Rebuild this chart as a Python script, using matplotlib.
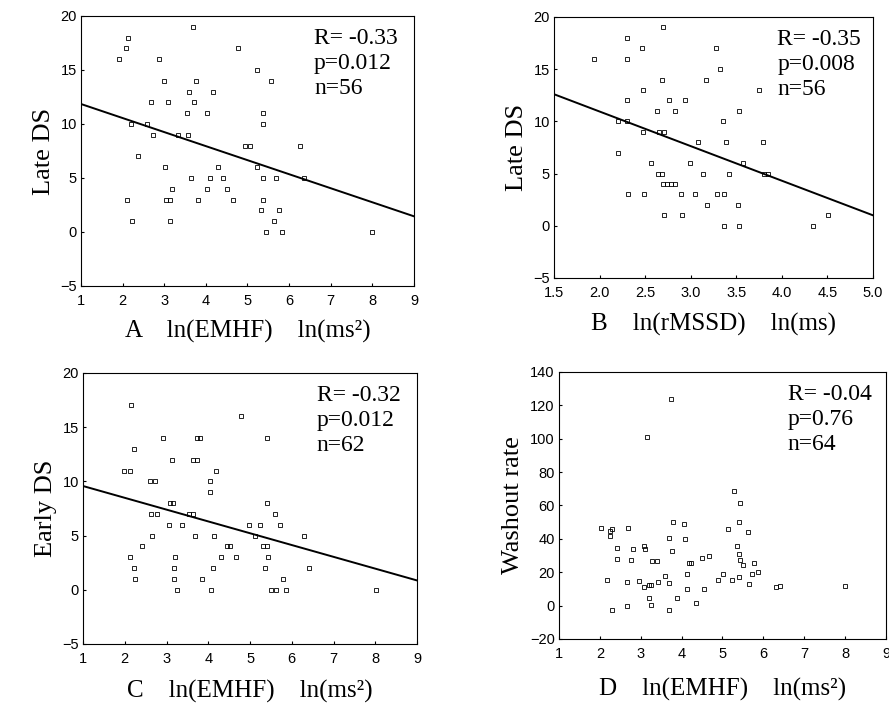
import matplotlib
matplotlib.use("Agg")
import matplotlib.pyplot as plt
import numpy as np

# Panel A: Late DS vs ln(EMHF)
a_x = [1.92, 2.07, 2.12, 2.19, 2.10, 2.22, 2.36, 2.59, 2.69, 2.74, 2.87, 3.00, 3.02,
       3.05, 3.15, 3.10, 3.18, 3.14, 3.34, 3.54, 3.60, 3.58, 3.64, 3.69, 3.72, 3.76,
       3.82, 4.03, 4.02, 4.10, 4.16, 4.28, 4.42, 4.50, 4.64, 4.78, 4.95, 5.06, 5.22,
       5.22, 5.38, 5.37, 5.38, 5.38, 5.33, 5.44, 5.56, 5.63, 5.68, 5.76, 5.82, 6.26,
       6.36, 7.98]
a_y = [16, 17, 18, 10, 3, 1, 7, 10, 12, 9, 16, 14, 6,
       3, 3, 12, 4, 1, 9, 11, 13, 9, 5, 19, 12, 14,
       3, 11, 4, 5, 13, 6, 5, 4, 3, 17, 8, 8, 15,
       6, 11, 10, 5, 3, 2, 0, 14, 1, 5, 2, 0, 8,
       5, 0]
a_fit_x = [1, 9]
a_fit_y = [11.85, 1.45]

# Panel B: Late DS vs ln(rMSSD)
b_x = [1.94, 2.20, 2.20, 2.30, 2.30, 2.30, 2.30, 2.31, 2.47, 2.48, 2.48, 2.49, 2.56,
       2.63, 2.64, 2.68, 2.70, 2.69, 2.65, 2.71, 2.70, 2.74, 2.78, 2.83, 2.71, 2.76,
       2.83, 2.89, 2.90, 2.94, 2.99, 3.05, 3.08, 3.13, 3.17, 3.18, 3.28, 3.29, 3.36,
       3.32, 3.35, 3.37, 3.39, 3.42, 3.52, 3.53, 3.53, 3.57, 3.75, 3.79, 3.80, 3.85,
       4.34, 4.51]
b_y = [16, 10, 7, 18, 16, 12, 10, 3, 17, 13, 9, 3, 6,
       11, 5, 5, 19, 14, 9, 9, 4, 4, 4, 4, 1, 12,
       11, 3, 1, 12, 6, 3, 8, 5, 14, 2, 17, 3, 3,
       15, 10, 0, 8, 5, 2, 0, 11, 6, 13, 8, 5, 5,
       0, 1]
b_fit_x = [1.5, 5.0]
b_fit_y = [12.6, 1.0]

# Panel C: Early DS vs ln(EMHF)
c_x = [2.16, 2.21, 1.99, 2.12, 2.13, 2.23, 2.25, 2.41, 2.61, 2.73, 2.63, 2.77, 2.66,
       2.91, 3.09, 3.15, 3.05, 3.12, 3.20, 3.18, 3.17, 3.24, 3.36, 3.53, 3.63, 3.63,
       3.74, 3.73, 3.80, 3.67, 3.86, 4.05, 4.03, 4.07, 4.11, 4.13, 4.19, 4.31, 4.45,
       4.53, 4.67, 4.79, 4.98, 5.13, 5.25, 5.30, 5.41, 5.35, 5.41, 5.41, 5.42, 5.51,
       5.63, 5.61, 5.71, 5.78, 5.85, 6.29, 6.41, 8.01]
c_y = [17, 13, 11, 11, 3, 2, 1, 4, 10, 10, 7, 7, 5,
       14, 8, 8, 6, 12, 3, 2, 1, 0, 6, 7, 7, 12,
       12, 14, 14, 5, 1, 10, 9, 0, 2, 5, 11, 3, 4,
       4, 3, 16, 6, 5, 6, 4, 4, 2, 14, 8, 3, 0,
       0, 7, 6, 1, 0, 5, 2, 0]
c_fit_x = [1, 9]
c_fit_y = [9.57, 0.86]

# Panel D: Washout rate vs ln(EMHF)
d_x = [2.03, 2.17, 2.25, 2.29, 2.25, 2.29, 2.43, 2.42, 2.67, 2.70, 2.67, 2.76, 2.82,
       2.96, 3.08, 3.10, 3.08, 3.19, 3.24, 3.15, 3.20, 3.25, 3.28, 3.39, 3.41, 3.60,
       3.68, 3.70, 3.68, 3.75, 3.78, 3.77, 3.88, 4.07, 4.09, 4.13, 4.13, 4.17, 4.22,
       4.35, 4.49, 4.55, 4.68, 4.88, 5.01, 5.14, 5.24, 5.29, 5.35, 5.40, 5.40, 5.40,
       5.43, 5.43, 5.51, 5.63, 5.64, 5.76, 5.73, 5.86, 6.31, 6.41, 7.99]
d_y = [46.4, 15.6, 45, 46, 42, -2.4, 34.4, 28, 14, 46.4, -0.4, 27.6, 34,
       15, 36, 34, 11.4, 12.4, 12.4, 101, 4.4, 0.4, 26.6, 27, 14, 18,
       40.4, 13.4, -2.4, 124, 50.4, 33, 4.4, 49, 40, 19, 10, 25.4, 25.4,
       1.4, 28.4, 10, 29.6, 15.6, 18.8, 46, 15.4, 68.4, 36, 50, 17, 31,
       61.4, 27.4, 24.4, 44.4, 13, 25.4, 19, 20.4, 11.4, 12, 11.6]

panels = [
    dict(x=a_x, y=a_y, fx=a_fit_x, fy=a_fit_y, xlim=(1, 9), ylim=(-5, 20),
         xt=np.arange(1, 10), yt=np.arange(-5, 21, 5), ylab="Late DS",
         xlab="A    ln(EMHF)    ln(ms\u00b2)", stats="R= -0.33\np=0.012\nn=56",
         pos=[0.0911, 0.5972, 0.3746, 0.3803], fmt="{:.0f}", lpad=8),
    dict(x=b_x, y=b_y, fx=b_fit_x, fy=b_fit_y, xlim=(1.5, 5.0), ylim=(-5, 20),
         xt=np.arange(1.5, 5.01, 0.5), yt=np.arange(-5, 21, 5), ylab="Late DS",
         xlab="B    ln(rMSSD)    ln(ms)", stats="R= -0.35\np=0.008\nn=56",
         pos=[0.6232, 0.6085, 0.3588, 0.3676], fmt="{:.1f}", lpad=9),
    dict(x=c_x, y=c_y, fx=c_fit_x, fy=c_fit_y, xlim=(1, 9), ylim=(-5, 20),
         xt=np.arange(1, 10), yt=np.arange(-5, 21, 5), ylab="Early DS",
         xlab="C    ln(EMHF)    ln(ms\u00b2)", stats="R= -0.32\np=0.012\nn=62",
         pos=[0.0934, 0.0930, 0.3757, 0.3817], fmt="{:.0f}", lpad=10),
    dict(x=d_x, y=d_y, fx=None, fy=None, xlim=(1, 9), ylim=(-20, 140),
         xt=np.arange(1, 10), yt=np.arange(-20, 141, 20), ylab="Washout rate",
         xlab="D    ln(EMHF)    ln(ms\u00b2)", stats="R= -0.04\np=0.76\nn=64",
         pos=[0.6288, 0.1000, 0.3678, 0.3761], fmt="{:.0f}", lpad=12),
]

serif = "Liberation Serif"
tickfont = ["Liberation Sans Narrow", "Liberation Sans"]

fig = plt.figure(figsize=(8.89, 7.10), dpi=100)
for p in panels:
    ax = fig.add_axes(p["pos"])
    ax.plot(p["x"], p["y"], "s", ms=3.0, mfc="none", mec="black", mew=0.6)
    if p["fx"] is not None:
        ax.plot(p["fx"], p["fy"], color="black", lw=1.4)
    ax.set_xlim(*p["xlim"])
    ax.set_ylim(*p["ylim"])
    ax.set_xticks(p["xt"])
    ax.set_xticklabels([p["fmt"].format(v) for v in p["xt"]], family=tickfont, fontsize=10.5)
    ax.set_yticks(p["yt"])
    ax.set_yticklabels([f"{v:.0f}".replace("-", "\u2212") for v in p["yt"]], family=tickfont, fontsize=10.5)
    ax.tick_params(direction="in", length=2.5, width=0.8, pad=3)
    ax.tick_params(axis="x", pad=6)
    for s in ax.spines.values():
        s.set_linewidth(0.8)
    ax.set_ylabel(p["ylab"], family=serif, fontsize=19, labelpad=4)
    ax.set_xlabel(p["xlab"], family=serif, fontsize=18, labelpad=p["lpad"])
    ax.text(0.70, 0.955, p["stats"], transform=ax.transAxes, family=serif,
            fontsize=17, va="top", ha="left", linespacing=1.25)

plt.savefig("out.png", dpi=100)
